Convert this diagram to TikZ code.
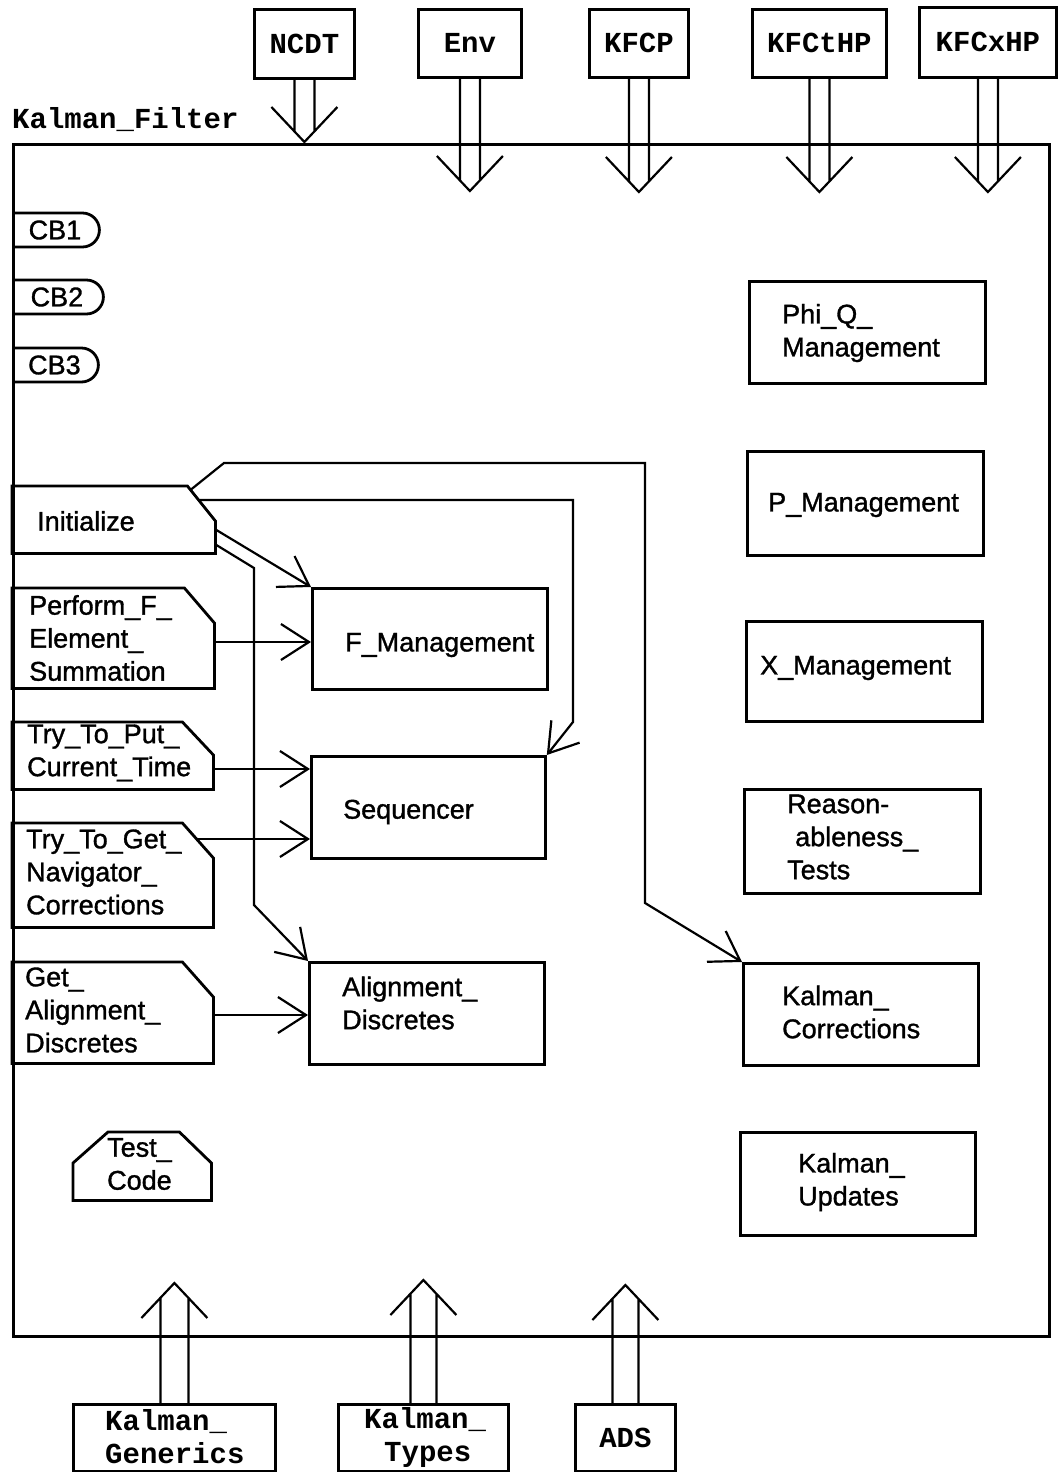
\documentclass[tikz,border=0pt]{standalone}
\usepackage{fontspec}
\setmainfont{Liberation Sans}
\newfontfamily\heavysans[FakeBold=1.2]{Liberation Sans}
\newfontfamily\monob{Liberation Mono}
\usetikzlibrary{arrows.meta,calc,shapes.misc}
\newcommand{\fatdown}[3]{%
  \coordinate (#1-tip) at (#1.south |- 0,#2);
  \draw[fat] ($(#1.south)+(-#3,0)$) -- ($(#1-tip)+(-#3,{-#3*35/33})$)
             ($(#1.south)+(#3,0)$) -- ($(#1-tip)+(#3,{-#3*35/33})$)
             ($(#1-tip)+(-33,-35)$) -- (#1-tip) -- ($(#1-tip)+(33,-35)$);}
\newcommand{\fatup}[3]{%
  \coordinate (#1-tip) at (#1.north |- 0,#2);
  \draw[fat] ($(#1.north)+(-#3,0)$) -- ($(#1-tip)+(-#3,{#3*35/33})$)
             ($(#1.north)+(#3,0)$) -- ($(#1-tip)+(#3,{#3*35/33})$)
             ($(#1-tip)+(-33,35)$) -- (#1-tip) -- ($(#1-tip)+(33,35)$);}
\begin{document}
\begin{tikzpicture}[x=1pt,y=-1pt,
  box/.style={draw, line width=2.8pt, inner sep=0pt, anchor=north west},
  frm/.style={draw, line width=3.2pt, inner sep=0pt, anchor=north west},
  region/.style={inner sep=0pt, anchor=north west},
  shp/.style={line width=2.8pt, line join=miter},
  lbl/.style={font=\fontsize{27}{33}\selectfont\heavysans, align=left, anchor=west, inner sep=0pt},
  mono/.style={font=\fontsize{29}{33}\selectfont\monob\bfseries, align=left, inner sep=0pt},
  cb/.style={draw, line width=2.8pt, rounded rectangle, rounded rectangle west arc=none,
    minimum height=34pt, inner sep=0pt, anchor=west, font=\fontsize{27}{30}\selectfont\heavysans},
  conn/.style={line width=2.2pt, -{Straight Barb[length=28pt,width=36pt,line width=2.2pt]}},
  fat/.style={line width=2.2pt},
]
\fill[white] (0,0) rectangle (1061,1472);
\useasboundingbox (0,0) rectangle (1061,1472);
\clip (0,0) rectangle (1061,1472);

% main frame
\node[frm, minimum width=1036pt, minimum height=1192pt] (kf) at (12,143) {};
\node[mono, anchor=west] (kfl) at (12,120) {Kalman\_Filter};

% top external boxes
\node[box, minimum width=100pt, minimum height=69pt] (ncdt) at (253,8) {};
\node[box, minimum width=103pt, minimum height=68pt] (env) at (417,8) {};
\node[box, minimum width=99pt, minimum height=68pt] (kfcp) at (588,8) {};
\node[box, minimum width=134pt, minimum height=68pt] (kfcthp) at (751,8) {};
\node[box, minimum width=137pt, minimum height=70pt] (kfcxhp) at (918,6) {};
\node[mono] (ncdtL) at (ncdt.center) {NCDT};
\node[mono] (envL) at (env.center) {Env};
\node[mono] (kfcpL) at (kfcp.center) {KFCP};
\node[mono] (kfcthpL) at (kfcthp.center) {KFCtHP};
\node[mono] (kfcxhpL) at (kfcxhp.center) {KFCxHP};
\fatdown{ncdt}{142}{10}
\fatdown{env}{191}{10}
\fatdown{kfcp}{192}{10}
\fatdown{kfcthp}{192}{10}
\fatdown{kfcxhp}{192}{10}

% bottom external boxes
\node[box, minimum width=202pt, minimum height=67pt] (kgen) at (72,1403) {};
\node[box, minimum width=170pt, minimum height=67pt] (ktyp) at (337,1403) {};
\node[box, minimum width=100pt, minimum height=67pt] (ads) at (574,1403) {};
\node[mono, anchor=west] (kgenL) at (105,1437) {Kalman\_\\Generics};
\node[mono, anchor=west] (ktypL) at (364,1437) {Kalman\_\\\hspace*{20pt}Types};
\node[mono] (adsL) at (ads.center) {ADS};
\fatup{kgen}{1283}{14}
\fatup{ktyp}{1280}{13}
\fatup{ads}{1285}{13}

% CB entries
\node[cb, minimum width=86pt] (cb1) at (12,230) {CB1};
\node[cb, minimum width=90pt] (cb2) at (12,297) {CB2};
\node[cb, minimum width=85pt] (cb3) at (12,365) {CB3};

% right column
\node[box, minimum width=236pt, minimum height=102pt] (phiq) at (748,280) {};
\node[box, minimum width=236pt, minimum height=104pt] (pman) at (746,450) {};
\node[box, minimum width=236pt, minimum height=100pt] (xman) at (745,620) {};
\node[box, minimum width=236pt, minimum height=104pt] (reas) at (743,788) {};
\node[box, minimum width=235pt, minimum height=102pt] (kcorr) at (742,962) {};
\node[box, minimum width=235pt, minimum height=103pt] (kupd) at (739,1131) {};
\node[lbl] (phiqL) at (782,333) {Phi\_Q\_\\Management};
\node[lbl] (pmanL) at (768,505) {P\_Management};
\node[lbl] (xmanL) at (760,668) {X\_Management};
\node[lbl] (reasL) at (787,837) {Reason-\\\hspace*{8pt}ableness\_\\Tests};
\node[lbl] (kcorrL) at (782,1012) {Kalman\_\\Corrections};
\node[lbl] (kupdL) at (798,1182) {Kalman\_\\Updates};

% middle column
\node[box, minimum width=235pt, minimum height=101pt] (fman) at (311,587) {};
\node[box, minimum width=234pt, minimum height=102pt] (seq) at (310,755) {};
\node[box, minimum width=235pt, minimum height=102pt] (align) at (308,961) {};
\node[lbl] (fmanL) at (345,645) {F\_Management};
\node[lbl] (seqL) at (343,812) {Sequencer};
\node[lbl] (alignL) at (342,1003) {Alignment\_\\Discretes};

% left notched entries
\node[region, minimum width=203pt, minimum height=67pt] (init) at (12,486) {};
\node[region, minimum width=202pt, minimum height=100pt] (perf) at (12,588) {};
\node[region, minimum width=201pt, minimum height=67pt] (put) at (12,722) {};
\node[region, minimum width=201pt, minimum height=104pt] (get) at (12,823) {};
\node[region, minimum width=201pt, minimum height=101pt] (gad) at (12,962) {};
\draw[shp] (init.south west) -- (init.north west) -- ([xshift=-28pt]init.north east) -- ([yshift=-35pt]init.north east) -- (init.south east) -- cycle;
\draw[shp] (perf.south west) -- (perf.north west) -- ([xshift=-30pt]perf.north east) -- ([yshift=-35pt]perf.north east) -- (perf.south east) -- cycle;
\draw[shp] (put.south west) -- (put.north west) -- ([xshift=-31pt]put.north east) -- ([yshift=-33pt]put.north east) -- (put.south east) -- cycle;
\draw[shp] (get.south west) -- (get.north west) -- ([xshift=-31pt]get.north east) -- ([yshift=-35pt]get.north east) -- (get.south east) -- cycle;
\draw[shp] (gad.south west) -- (gad.north west) -- ([xshift=-31pt]gad.north east) -- ([yshift=-35pt]gad.north east) -- (gad.south east) -- cycle;
\node[lbl] (initL) at (37,521) {Initialize};
\node[lbl] (perfL) at (29,638) {Perform\_F\_\\Element\_\\Summation};
\node[lbl] (putL) at (27,753) {Try\_To\_Put\_\\Current\_Time};
\node[lbl] (getL) at (26,872) {Try\_To\_Get\_\\Navigator\_\\Corrections};
\node[lbl] (gadL) at (25,1010) {Get\_\\Alignment\_\\Discretes};

% Test_Code
\node[region, minimum width=138pt, minimum height=68pt] (tc) at (73,1132) {};
\draw[shp] (tc.south west) -- ([yshift=-31pt]tc.north west) -- ([xshift=35pt]tc.north west) -- ([xshift=-32pt]tc.north east) -- ([yshift=-31pt]tc.north east) -- (tc.south east) -- cycle;
\node[lbl] (tcL) at (107,1164) {Test\_\\Code};

% connectors
\draw[conn] ($(init.north east)+(-25,4)$) -- (224,463) -- (645,463) -- (645,903) -- (kcorr.north west);
\draw[conn] ($(init.north east)+(-16,14)$) -- (573,500) -- (573,722) -- (seq.north east);
\draw[conn] ($(init.south east)+(0,-24)$) -- (fman.north west);
\draw[conn] ($(init.south east)+(0,-9)$) -- (254,568) -- (254,905) -- (align.north west);
\draw[conn] (perf.east |- 0,642) -- (fman.west |- 0,642);
\draw[conn] (put.east |- 0,769) -- (seq.west |- 0,769);
\draw[conn] ($(get.north east)+(-17,16)$) -- (seq.west |- 0,839);
\draw[conn] (gad.east |- 0,1015) -- (align.west |- 0,1015);
\end{tikzpicture}
\end{document}
